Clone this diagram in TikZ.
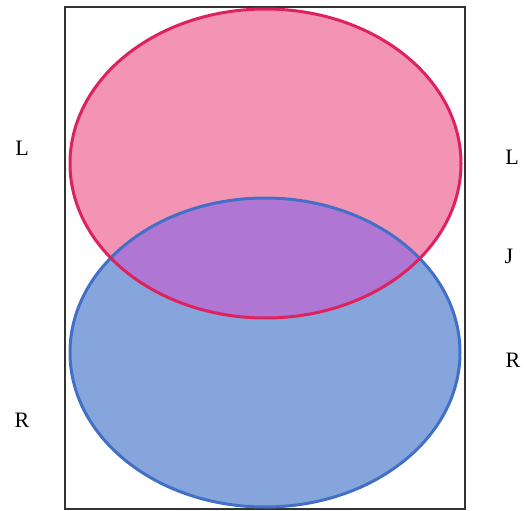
\documentclass[tikz,border=0pt]{standalone}
\usepackage{fontspec}
\setmainfont{Liberation Serif}
\usepackage{tikz}
\usetikzlibrary{positioning}
\definecolor{LeftPink}{RGB}{244,148,180}
\definecolor{LeftEdge}{RGB}{221,34,94}
\definecolor{RightBlue}{RGB}{134,165,221}
\definecolor{RightEdge}{RGB}{66,112,200}
\definecolor{JoinPurple}{RGB}{176,118,212}
\tikzset{
  frame/.style={draw=black!80, line width=1.8pt},
  leftset/.style={draw=LeftEdge, line width=3pt},
  rightset/.style={draw=RightEdge, line width=3pt},
  sidelabel/.style={font=\fontsize{22}{26}\selectfont, inner sep=0pt}
}
\begin{document}
\begin{tikzpicture}[x=1pt,y=-1pt]
  \useasboundingbox (0,0) rectangle (525,511);
  \draw[frame] (65,7) rectangle (465,509);
  % the two sets and their overlap
  \fill[LeftPink] (265.5,163.5) ellipse [x radius=195.5, y radius=154.5];
  \fill[RightBlue] (265,352.5) ellipse [x radius=195, y radius=154.5];
  \begin{scope}
    \clip (265.5,163.5) ellipse [x radius=195.5, y radius=154.5];
    \fill[JoinPurple] (265,352.5) ellipse [x radius=195, y radius=154.5];
  \end{scope}
  \draw[rightset] (265,352.5) ellipse [x radius=195, y radius=154.5];
  \draw[leftset] (265.5,163.5) ellipse [x radius=195.5, y radius=154.5];
  % labels
  \node[sidelabel] (leftL) at (22,148) {L};
  \node[sidelabel] (leftR) at (22,420) {R};
  \node[sidelabel] (rightL) at (512,157) {L};
  \node[sidelabel] (rightJ) at (509,256) {J};
  \node[sidelabel] (rightR) at (513,360) {R};
\end{tikzpicture}
\end{document}
